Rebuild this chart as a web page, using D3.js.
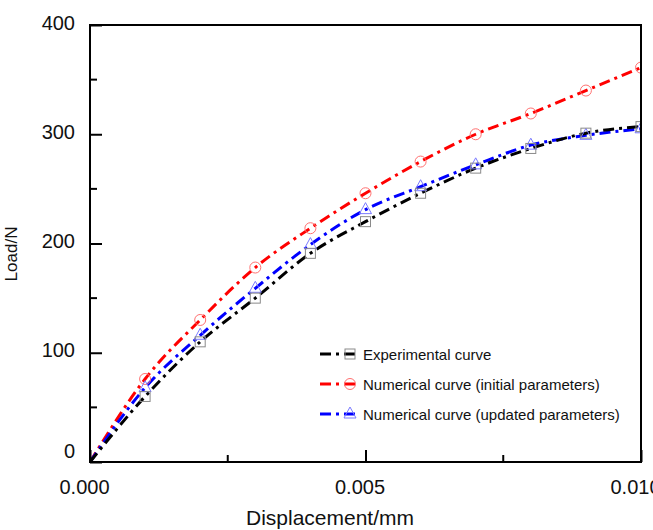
<!DOCTYPE html>
<html>
<head>
<meta charset="utf-8">
<script src="https://cdn.jsdelivr.net/npm/d3@7"></script>
<style>
  body { margin: 0; background: #ffffff; }
  svg { display: block; font-family: "Liberation Sans", Arial, sans-serif; }
</style>
</head>
<body>
<div id="chart"></div>
<script>

// displacement (mm) at which each curve is sampled
var displacement = [0, 0.001, 0.002, 0.003, 0.004, 0.005, 0.006, 0.007, 0.008, 0.009, 0.010];

// load (N) for each curve
var experimental = [0, 60, 110, 150, 191, 220, 246, 269, 287, 301, 307];
var initialParams = [0, 76, 130, 178, 214, 246, 275, 300, 319, 340, 361];
var updatedParams = [0, 68, 116, 159, 199, 231, 252, 272, 290, 299, 305];

// tick values
var xTicks = [0, 0.005, 0.010];
var xMinorTicks = [0.0025, 0.0075];
var yTicks = [0, 100, 200, 300, 400];
var yMinorTicks = [50, 150, 250, 350];

var seriesNames = ["Experimental curve", "Numerical curve (initial parameters)", "Numerical curve (updated parameters)"];

// dimensions of entire svg and plot area
var w = 653, h = 530;
var margin = {top: 25, right: 12, bottom: 68, left: 90};
var winner = w - margin.left - margin.right;
var hinner = h - margin.top - margin.bottom;

var svg = d3.select("#chart").append("svg")
    .attr("width", w).attr("height", h);

var xscale = d3.scaleLinear().domain([0, 0.010]).range([margin.left, margin.left + winner]);
var yscale = d3.scaleLinear().domain([0, 400]).range([margin.top + hinner, margin.top]);

// series styling
var series = [
    {name: seriesNames[0], values: experimental, line: "#000000", marker: "#8a8a8a", shape: "square"},
    {name: seriesNames[1], values: initialParams, line: "#ff0000", marker: "#ff7070", shape: "circle"},
    {name: seriesNames[2], values: updatedParams, line: "#0000ff", marker: "#7a7aff", shape: "triangle"}
];
var dashes = "11,5,3,5";

svg.append("clipPath").attr("id", "plotclip").append("rect")
    .attr("x", margin.left).attr("y", margin.top - 10)
    .attr("width", winner).attr("height", hinner + 10);

// draw a marker of a given shape at (cx, cy)
var drawMarker = function(g, shape, cx, cy, color) {
    if (shape == "square") {
        g.append("rect").attr("x", cx - 5).attr("y", cy - 5)
        .attr("width", 10).attr("height", 10)
        .attr("fill", "none").attr("stroke", color).attr("stroke-width", 1);
    } else if (shape == "circle") {
        g.append("circle").attr("cx", cx).attr("cy", cy).attr("r", 5.5)
        .attr("fill", "none").attr("stroke", color).attr("stroke-width", 1);
    } else {
        g.append("path")
        .attr("d", "M" + cx + "," + (cy - 7) + "L" + (cx + 6) + "," + (cy + 4) + "L" + (cx - 6) + "," + (cy + 4) + "Z")
        .attr("fill", "none").attr("stroke", color).attr("stroke-width", 1);
    }
};

// curves
var plot = svg.append("g").attr("clip-path", "url(#plotclip)");
var drawOrder = [1, 2, 0];
drawOrder.forEach(function(k) {
    var s = series[k];
    var pts = displacement.map(function(d, i) { return [d, s.values[i]]; });
    var line = d3.line()
        .x(function(d) { return xscale(d[0]); })
        .y(function(d) { return yscale(d[1]); })
        .curve(d3.curveMonotoneX);
    plot.append("path").datum(pts)
        .attr("d", line)
        .attr("fill", "none").attr("stroke", s.line)
        .attr("stroke-width", 3).attr("stroke-dasharray", dashes);
});
drawOrder.forEach(function(k) {
    var s = series[k];
    displacement.forEach(function(d, i) {
        if (i == 0) return;
        drawMarker(plot, s.shape, xscale(d), yscale(s.values[i]), s.marker);
    });
});

// frame
svg.append("rect")
    .attr("x", margin.left).attr("y", margin.top)
    .attr("width", winner).attr("height", hinner)
    .attr("fill", "none").attr("stroke", "#000").attr("stroke-width", 2);

// y axis, ticks pointing inward
var yaxis = d3.axisLeft(yscale).tickValues(yTicks).tickSize(-12).tickPadding(15)
    .tickFormat(d3.format("d"));
var yg = svg.append("g").attr("transform", "translate(" + margin.left + ",0)").call(yaxis);
yg.select(".domain").remove();
yg.selectAll(".tick line").attr("stroke-width", 2);
yg.selectAll(".tick text").attr("font-size", 20).attr("fill", "#111")
    .attr("font-family", "Liberation Sans, Arial, sans-serif")
    .attr("dy", function(d) { return d == 0 ? "-0.25em" : "0.2em"; });
yg.selectAll(".minor").data(yMinorTicks).enter().append("line")
    .attr("x1", 0).attr("x2", 7)
    .attr("y1", function(d) { return yscale(d); }).attr("y2", function(d) { return yscale(d); })
    .attr("stroke", "#000").attr("stroke-width", 2);

// x axis, ticks pointing inward
var xaxis = d3.axisBottom(xscale).tickValues(xTicks).tickSize(-12).tickPadding(18)
    .tickFormat(d3.format(".3f"));
var xg = svg.append("g").attr("transform", "translate(0," + (margin.top + hinner) + ")").call(xaxis);
xg.select(".domain").remove();
xg.selectAll(".tick line").attr("stroke-width", 2);
xg.selectAll(".tick text").attr("font-size", 20).attr("fill", "#111")
    .attr("font-family", "Liberation Sans, Arial, sans-serif")
    .attr("dx", "-0.3em");
xg.selectAll(".minor").data(xMinorTicks).enter().append("line")
    .attr("y1", 0).attr("y2", -7)
    .attr("x1", function(d) { return xscale(d); }).attr("x2", function(d) { return xscale(d); })
    .attr("stroke", "#000").attr("stroke-width", 2);

// axis titles
svg.append("text").text("Displacement/mm")
    .attr("x", 330).attr("y", 525)
    .attr("text-anchor", "middle").attr("font-size", 21).attr("fill", "#111");
svg.append("text").text("Load/N")
    .attr("transform", "translate(17,254) rotate(-90)")
    .attr("text-anchor", "middle").attr("font-size", 17).attr("fill", "#111");

// legend
var legendRows = [354, 384, 414];
series.forEach(function(s, i) {
    var ly = legendRows[i];
    var lg = svg.append("g");
    lg.append("line").attr("x1", 320).attr("x2", 360).attr("y1", ly).attr("y2", ly)
        .attr("stroke", s.line).attr("stroke-width", 3).attr("stroke-dasharray", dashes);
    drawMarker(lg, s.shape, 350, ly, s.marker);
    lg.append("text").text(s.name)
        .attr("x", 363).attr("y", ly + 6)
        .attr("font-size", 15).attr("fill", "#111");
});

</script>
</body>
</html>
